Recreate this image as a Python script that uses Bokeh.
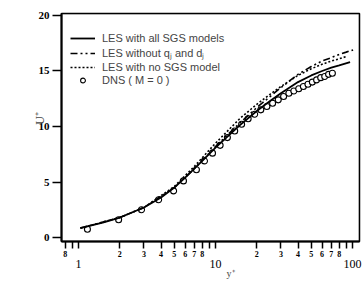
from bokeh.plotting import figure
from bokeh.models import LogAxis, FixedTicker, Legend, LegendItem, Range1d, BoxAnnotation
from bokeh.embed import file_html
from bokeh.resources import INLINE

# DNS (M = 0) points
dns_yplus = [1.16, 1.96, 2.88, 3.84, 4.94, 5.83, 7.25, 8.3, 9.5, 10.8, 12.2, 13.8, 15.5, 17.3,
             19.3, 21.4, 23.7, 26.1, 28.7, 31.4, 34.3, 37.3, 40.5, 43.8, 47.3, 50.9, 54.7,
             58.6, 62.7, 66.9, 71.3]
dns_uplus = [0.75, 1.6, 2.5, 3.4, 4.2, 5.1, 6.1, 6.9, 7.6, 8.3, 9.0, 9.6, 10.2, 10.7,
             11.1, 11.5, 11.8, 12.1, 12.4, 12.7, 13.0, 13.2, 13.4, 13.6, 13.8, 14.0, 14.2,
             14.4, 14.5, 14.7, 14.8]

# LES with all SGS models
les_all_yplus = [1.03, 1.5, 2, 3, 4, 5, 6, 7, 8, 10, 12, 15, 20, 25, 30, 40, 50, 60, 70, 80, 96]
les_all_uplus = [0.85, 1.35, 1.8, 2.7, 3.6, 4.5, 5.4, 6.2, 6.9, 8.1, 9.0, 10.1, 11.4, 12.3,
                 13.0, 14.0, 14.6, 15.0, 15.3, 15.5, 15.8]

# LES without q_j and d_j
les_noqd_yplus = [1.03, 2, 3, 5, 7, 10, 15, 20, 25, 30, 40, 50, 60, 70, 80, 90, 101]
les_noqd_uplus = [0.85, 1.8, 2.7, 4.5, 6.2, 8.2, 10.3, 11.7, 12.7, 13.5, 14.7, 15.4, 15.9,
                  16.2, 16.5, 16.7, 16.9]

# LES with no SGS model
les_nosgs_yplus = [1.03, 2, 3, 5, 7, 10, 15, 20, 25, 30, 40, 50, 60, 70, 80, 90]
les_nosgs_uplus = [0.85, 1.8, 2.7, 4.6, 6.4, 8.5, 10.7, 12.0, 12.9, 13.6, 14.6, 15.2, 15.6,
                   15.9, 16.1, 16.3]

x_ticks = [0.8, 0.9, 1, 2, 3, 4, 5, 6, 7, 8, 9, 10, 20, 30, 40, 50, 60, 70, 80, 90, 100]
x_tick_labels = ["8", "", "", "2", "3", "4", "5", "6", "7", "8", "", "",
                 "2", "3", "4", "5", "6", "7", "8", "", ""]
x_major_ticks = [1, 10, 100]
x_major_labels = ["1", "10", "100"]
y_ticks = [0, 5, 10, 15, 20]

p = figure(width=363, height=281, x_axis_type="log",
           x_range=Range1d(0.75, 112.5), y_range=Range1d(-0.36, 20.18),
           output_backend="svg", toolbar_location=None,
           min_border_left=61, min_border_right=4, min_border_top=13, min_border_bottom=38)
p.xgrid.visible = False
p.ygrid.visible = False
p.outline_line_color = "black"
p.outline_line_width = 1.5
p.background_fill_color = "white"

serif = "Liberation Serif"

xa = p.xaxis[0]
xa.ticker = FixedTicker(ticks=x_ticks, minor_ticks=[])
xa.major_label_overrides = {t: l for t, l in zip(x_ticks, x_tick_labels)}
xa.axis_line_width = 2
xa.axis_line_color = "black"
xa.major_tick_out = 7
xa.major_tick_in = 0
xa.major_tick_line_width = 1.5
xa.major_label_standoff = 2
xa.major_label_text_font = serif
xa.major_label_text_font_size = "8px"
xa.major_label_text_font_style = "bold"
xa.major_label_text_color = "black"

xa2 = LogAxis(ticker=FixedTicker(ticks=x_major_ticks, minor_ticks=[]),
              major_label_overrides={t: l for t, l in zip(x_major_ticks, x_major_labels)},
              axis_line_color=None, major_tick_line_color=None, minor_tick_line_color=None,
              major_tick_in=0, major_tick_out=0, major_label_standoff=0,
              major_label_text_font=serif, major_label_text_font_size="12px",
              major_label_text_color="black",
              axis_label="\u2003\u2003\u2003\u2003y\u207a", axis_label_text_font=serif,
              axis_label_text_font_size="10px", axis_label_text_font_style="normal",
              axis_label_standoff=-3)
p.add_layout(xa2, "below")

ya = p.yaxis[0]
ya.ticker = FixedTicker(ticks=y_ticks, minor_ticks=[])
ya.axis_line_width = 2
ya.axis_line_color = "black"
ya.major_tick_out = 9
ya.major_tick_in = 0
ya.major_tick_line_width = 1.5
ya.major_label_standoff = 3
ya.major_label_text_font = serif
ya.major_label_text_font_size = "11px"
ya.major_label_text_font_style = "bold"
ya.major_label_text_color = "black"
ya.axis_label = "\u2003\u00a0\u00a0U\u207a"
ya.axis_label_text_font = serif
ya.axis_label_text_font_size = "12px"
ya.axis_label_text_font_style = "normal"
ya.axis_label_standoff = -11

p.add_layout(BoxAnnotation(fill_alpha=0, line_color="black", line_width=1.5))

r_dns = p.scatter(dns_yplus, dns_uplus, marker="circle", size=6, fill_color="white",
                  line_color="black", line_width=1.1)
r_all = p.line(les_all_yplus, les_all_uplus, line_color="black", line_width=1.8)
r_noqd = p.line(les_noqd_yplus, les_noqd_uplus, line_color="black", line_width=1.6,
                line_dash="7 3 2 3 2 3")
r_nosgs = p.line(les_nosgs_yplus, les_nosgs_uplus, line_color="black", line_width=1.6,
                 line_dash="2 2")

legend = Legend(items=[
    LegendItem(label="LES with all SGS models", renderers=[r_all]),
    LegendItem(label="LES without q\u2c7c and d\u2c7c", renderers=[r_noqd]),
    LegendItem(label="LES with no SGS model", renderers=[r_nosgs]),
    LegendItem(label="DNS ( M = 0 )", renderers=[r_dns]),
], location=(9, 155), padding=0, margin=0, spacing=1, label_height=12, glyph_height=12,
   glyph_width=25, label_standoff=7, label_text_font="Liberation Sans",
   label_text_font_size="11px", border_line_color=None, background_fill_alpha=0)
p.add_layout(legend, "center")

open("out.html", "w").write(file_html(p, INLINE))
